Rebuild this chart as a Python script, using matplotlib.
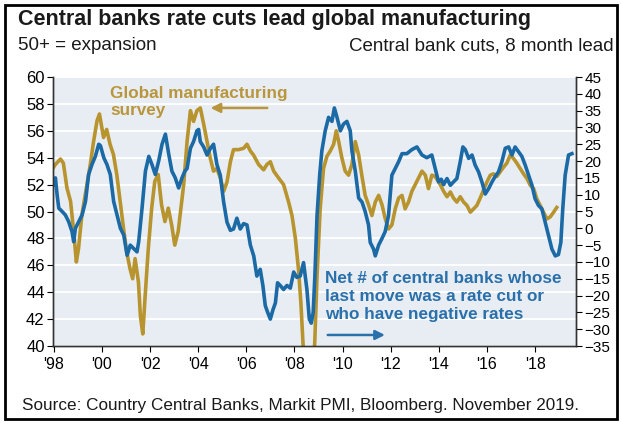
import matplotlib
matplotlib.use("Agg")
import matplotlib.pyplot as plt
from matplotlib.patches import Rectangle

plt.rcParams['font.family'] = ['Liberation Sans', 'DejaVu Sans']

# Global manufacturing PMI (left axis)
pmi_years = [1998.0, 1998.07, 1998.28, 1998.4, 1998.55, 1998.7, 1998.83, 1998.94, 1999.03, 1999.17,
             1999.38, 1999.52, 1999.66, 1999.8, 1999.9, 2000.07, 2000.2, 2000.34, 2000.48, 2000.62,
             2000.76, 2000.9, 2001.03, 2001.17, 2001.28, 2001.38, 2001.52, 2001.6, 2001.7, 2001.8,
             2001.93, 2002.07, 2002.2, 2002.34, 2002.48, 2002.62, 2002.76, 2002.9, 2003.03, 2003.17,
             2003.3, 2003.4, 2003.54, 2003.68, 2003.81, 2003.95, 2004.09, 2004.23, 2004.37, 2004.5,
             2004.64, 2004.78, 2004.92, 2005.06, 2005.2, 2005.34, 2005.47, 2005.68, 2005.89, 2006.03,
             2006.17, 2006.3, 2006.51, 2006.72, 2006.86, 2007.0, 2007.14, 2007.34, 2007.55, 2007.76,
             2007.9, 2008.04, 2008.17, 2008.27, 2008.35, 2008.45, 2008.55, 2008.65, 2008.75, 2008.85,
             2008.94, 2009.07, 2009.21, 2009.35, 2009.49, 2009.63, 2009.74, 2009.84, 2009.97, 2010.11,
             2010.25, 2010.39, 2010.53, 2010.67, 2010.8, 2010.94, 2011.08, 2011.22, 2011.36, 2011.5,
             2011.64, 2011.77, 2011.91, 2012.05, 2012.19, 2012.33, 2012.47, 2012.6, 2012.74, 2012.88,
             2013.02, 2013.16, 2013.3, 2013.44, 2013.57, 2013.71, 2013.85, 2014.06, 2014.2, 2014.34,
             2014.48, 2014.61, 2014.75, 2014.89, 2015.03, 2015.17, 2015.31, 2015.45, 2015.58, 2015.72,
             2015.86, 2016.0, 2016.14, 2016.27, 2016.41, 2016.55, 2016.69, 2016.83, 2016.97, 2017.1,
             2017.24, 2017.38, 2017.52, 2017.66, 2017.8, 2017.94, 2018.07, 2018.21, 2018.35, 2018.49,
             2018.63, 2018.77, 2018.9]
pmi = [53.3, 53.5, 53.9, 53.6, 51.75, 50.75, 48.5, 46.25, 47.25, 49.75,
       52.0, 53.5, 55.25, 56.75, 57.25, 55.5, 56.1, 55.0, 54.25, 52.75,
       50.75, 48.75, 47.0, 45.75, 45.0, 46.5, 44.75, 42.25, 40.9, 43.75,
       47.25, 50.25, 52.25, 52.75, 50.5, 49.25, 50.25, 49.0, 47.5, 48.5,
       50.5, 52.0, 55.2, 57.5, 56.7, 57.5, 57.7, 56.5, 55.2, 54.0,
       53.0, 53.2, 52.5, 51.5, 52.2, 53.7, 54.6, 54.6, 54.7, 55.0,
       54.5, 54.2, 53.5, 53.1, 53.5, 53.7, 53.0, 52.5, 52.0, 50.7,
       49.7, 48.0, 45.7, 43.2, 40.5, 37.0, 34.5, 34.0, 36.5, 40.5,
       45.2, 50.2, 53.2, 54.1, 54.5, 55.0, 56.0, 55.2, 54.0, 53.0,
       52.7, 53.5, 55.2, 54.2, 52.7, 51.2, 50.5, 49.7, 50.7, 51.2,
       50.5, 49.5, 48.7, 49.0, 50.2, 51.0, 51.2, 50.2, 50.7, 51.5,
       52.0, 52.5, 53.0, 52.7, 51.7, 52.7, 52.6, 52.0, 51.5, 51.1,
       51.45, 51.0, 50.7, 51.1, 50.7, 50.45, 49.95, 50.2, 50.45, 51.0,
       51.6, 52.2, 52.7, 52.8, 52.6, 52.95, 53.3, 53.6, 54.2, 53.95,
       53.6, 53.2, 52.8, 52.45, 51.95, 51.7, 50.95, 50.45, 49.95, 49.45,
       49.6, 49.95, 50.3]

# Net number of central banks cutting, 8 month lead (right axis)
cb_years = [1998.0, 1998.07, 1998.14, 1998.21, 1998.35, 1998.48, 1998.62, 1998.76, 1998.83, 1998.9,
            1999.04, 1999.18, 1999.32, 1999.45, 1999.59, 1999.73, 1999.87, 1999.94, 2000.08, 2000.21,
            2000.35, 2000.49, 2000.63, 2000.77, 2000.91, 2001.05, 2001.18, 2001.32, 2001.46, 2001.53,
            2001.67, 2001.81, 2001.95, 2002.08, 2002.22, 2002.36, 2002.5, 2002.64, 2002.78, 2002.91,
            2003.05, 2003.19, 2003.33, 2003.45, 2003.54, 2003.68, 2003.81, 2003.95, 2004.02, 2004.09,
            2004.23, 2004.37, 2004.51, 2004.64, 2004.78, 2004.92, 2005.06, 2005.2, 2005.34, 2005.47,
            2005.61, 2005.75, 2005.89, 2006.03, 2006.17, 2006.31, 2006.44, 2006.58, 2006.69, 2006.79,
            2006.89, 2007.0, 2007.11, 2007.21, 2007.3, 2007.41, 2007.55, 2007.69, 2007.83, 2007.97,
            2008.1, 2008.24, 2008.38, 2008.52, 2008.62, 2008.7, 2008.78, 2008.85, 2008.94, 2009.05,
            2009.14, 2009.28, 2009.42, 2009.56, 2009.66, 2009.77, 2009.91, 2010.04, 2010.18, 2010.32,
            2010.39, 2010.53, 2010.67, 2010.81, 2010.94, 2011.08, 2011.15, 2011.29, 2011.36, 2011.5,
            2011.64, 2011.77, 2011.91, 2012.05, 2012.19, 2012.33, 2012.47, 2012.67, 2012.88, 2013.09,
            2013.3, 2013.5, 2013.71, 2013.85, 2013.99, 2014.1, 2014.2, 2014.34, 2014.48, 2014.61,
            2014.75, 2014.89, 2015.0, 2015.1, 2015.24, 2015.38, 2015.51, 2015.65, 2015.79, 2015.93,
            2016.07, 2016.21, 2016.34, 2016.48, 2016.62, 2016.76, 2016.9, 2017.04, 2017.17, 2017.31,
            2017.45, 2017.59, 2017.73, 2017.87, 2018.0, 2018.14, 2018.28, 2018.42, 2018.56, 2018.7,
            2018.84, 2018.97, 2019.07, 2019.15, 2019.25, 2019.39, 2019.53]
cb_net = [13, 15, 10, 6, 5, 4, 2, -1, -4, 0,
          2, 4, 8, 16, 19, 21.4, 25, 24.6, 21, 19,
          16, 8, 4, 0, -2, -8, -5, -6, -7, -4,
          6, 17, 21.4, 19, 16, 20, 25, 28, 22, 17,
          15, 12, 15, 17, 17.8, 23.8, 25.8, 29, 29.4, 25.8,
          24.2, 21.8, 23.8, 25, 19, 15.8, 7.8, 1.8, -0.6, -0.2,
          3, -0.2, 1.4, 1, -5, -8.2, -14.2, -12.2, -17, -23,
          -25, -27, -24.2, -22.2, -16.2, -17, -18.2, -17, -17.8, -13,
          -14.6, -14.2, -10.2, -18.2, -27, -28.2, -25, -14.2, 3.8, 15.8,
          23, 29, 33, 31.8, 35.8, 33, 29, 31, 31.8, 29,
          23, 17, 9, 7.8, 5, 1, -4.2, -6.2, -8.2, -5,
          -3, -1, 3.8, 15.8, 17.8, 19.8, 22.2, 22.2, 23.4, 24.2,
          21.8, 21, 21.8, 17.8, 13.8, 14.6, 13, 14.8, 12.8, 13.8,
          14.8, 19.8, 24.2, 23.4, 20.8, 21.8, 18.8, 16.8, 13.8, 10.2,
          11.8, 13.8, 15.4, 16.8, 19.8, 23.8, 24.2, 21.8, 24.2, 22.8,
          21.4, 18.8, 15.8, 12.8, 8.8, 6.8, 5.8, 1.8, -2.2, -6.2,
          -8.2, -7.8, -4.2, 5.8, 15.8, 21.8, 22.2]

year_ticks = list(range(1998, 2019, 2))
year_labels = ["'%02d" % (y % 100) for y in year_ticks]

gold = '#b8942f'
blue = '#1b6aa6'

fig = plt.figure(figsize=(6.21, 4.23), dpi=100)
W, H = 621.0, 423.0
ax = fig.add_axes([53 / W, 1 - 346 / H, (576 - 53) / W, (346 - 77) / H])
ax.set_facecolor('#e8edf4')

ax.plot(pmi_years, pmi, color=gold, lw=2.6, solid_joinstyle='round')
ax.set_xlim(1997.97, 2019.7)
ax.set_ylim(40, 60)
ax.set_yticks(range(40, 61, 2))
ax.set_xticks(year_ticks)
ax.set_xticklabels(year_labels)
ax.grid(axis='y', color='white', lw=1.3)
ax.set_axisbelow(True)
ax.tick_params(axis='y', direction='out', length=4, labelsize=12, pad=2)
ax.tick_params(axis='x', direction='out', length=4, labelsize=11.5, pad=4)

ax2 = ax.twinx()
ax2.plot(cb_years, cb_net, color=blue, lw=2.6, solid_joinstyle='round')
ax2.set_ylim(-35, 45)
ax2.set_yticks(range(-35, 46, 5))
ax2.tick_params(axis='y', direction='out', length=4, labelsize=11, pad=2)

for a in (ax, ax2):
    a.spines['top'].set_visible(False)
    for s in ('left', 'right', 'bottom'):
        a.spines[s].set_color('#333333')
        a.spines[s].set_linewidth(1.0)

# series annotations
ax.text(0.109, 0.908, 'Global manufacturing\nsurvey', transform=ax.transAxes,
        color='#b9963b', fontsize=12.3, fontweight='bold', va='center', ha='left',
        linespacing=1.2)
ax.annotate('', xy=(0.296, 0.885), xytext=(0.415, 0.885), xycoords='axes fraction',
            arrowprops=dict(arrowstyle='-|>', color='#b9963b', lw=1.8, mutation_scale=14))
ax.text(0.52, 0.183, 'Net # of central banks whose\nlast move was a rate cut or\nwho have negative rates',
        transform=ax.transAxes, color='#2a70ab', fontsize=12.3, fontweight='bold',
        va='center', ha='left', linespacing=1.25)
ax.annotate('', xy=(0.64, 0.041), xytext=(0.52, 0.041), xycoords='axes fraction',
            arrowprops=dict(arrowstyle='-|>', color='#2a70ab', lw=1.8, mutation_scale=14))

# headings and source
fig.text(18 / W, 1 - 19 / H, 'Central banks rate cuts lead global manufacturing',
         fontsize=15.5, fontweight='bold', va='center', ha='left', color='#1a1a1a')
fig.text(18 / W, 1 - 46 / H, '50+ = expansion', fontsize=13.5, va='center', ha='left', color='#1a1a1a')
fig.text(614 / W, 1 - 46 / H, 'Central bank cuts, 8 month lead', fontsize=13.5, va='center',
         ha='right', color='#1a1a1a')
fig.text(22 / W, 1 - 405 / H, 'Source: Country Central Banks, Markit PMI, Bloomberg. November 2019.',
         fontsize=12.3, va='center', ha='left', color='#1a1a1a')

# outer frame
fig.patches.append(Rectangle((5 / W, 4 / H), 612 / W, 414 / H, transform=fig.transFigure,
                             fill=False, edgecolor='black', lw=2))

fig.savefig('out.png', dpi=100)
